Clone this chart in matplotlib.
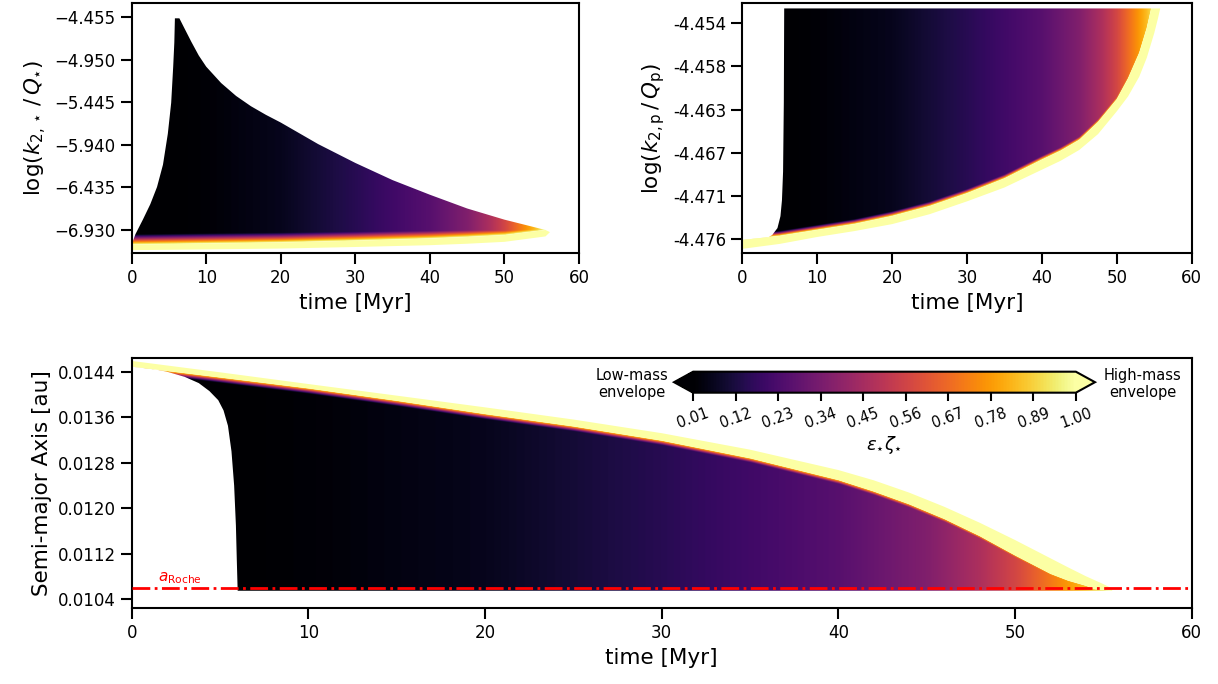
import numpy as np
import matplotlib.pyplot as plt
from matplotlib.patches import Polygon
from matplotlib.colors import Normalize
from matplotlib.cm import ScalarMappable

# --- values ---

# time at which a track reaches the Roche limit -> eps*zeta of that track (its colour)
END_TIME = [0.0, 6.0, 10.0, 20.0, 30.0, 40.0, 45.0, 48.0, 50.0, 52.0, 54.0, 55.5, 60.0]
END_EPS = [0.01, 0.01, 0.02, 0.06, 0.15, 0.26, 0.36, 0.47, 0.57, 0.71, 0.85, 1.00, 1.00]

# top left: log(k2*/Q*)
KS_LEFT_T = [0.0, 0.5, 1.5, 2.5, 3.4, 4.2, 4.85, 5.3, 5.57, 5.72, 5.8]
KS_LEFT_Y = [-7.100, -6.980, -6.810, -6.630, -6.430, -6.170, -5.810, -5.450, -5.030, -4.750, -4.467]
KS_TOP_T = [5.8, 6.4, 7.0, 8.0, 9.0, 10.0, 12.0, 14.0, 16.0, 18.0, 20.0, 25.0, 30.0,
            35.0, 40.0, 45.0, 50.0, 55.5]
KS_TOP_Y = [-4.467, -4.467, -4.570, -4.740, -4.900, -5.030, -5.220, -5.370, -5.490, -5.590,
            -5.680, -5.930, -6.150, -6.350, -6.520, -6.680, -6.810, -6.930]
KS_IN_T = [0.0, 10.0, 20.0, 30.0, 40.0, 45.0, 50.0, 55.5]
KS_IN_Y = [-7.100, -7.088, -7.076, -7.055, -7.030, -7.012, -6.990, -6.930]
KS_OUT_T = [0.0, 10.0, 20.0, 30.0, 40.0, 45.0, 50.0, 55.5, 56.1]
KS_OUT_Y = [-7.165, -7.156, -7.146, -7.128, -7.107, -7.090, -7.068, -7.005, -6.955]
KS_TICKS = [-4.455, -4.950, -5.445, -5.940, -6.435, -6.930]
KS_TICKLABELS = ['\u22124.455', '\u22124.950', '\u22125.445', '\u22125.940', '\u22126.435', '\u22126.930']

# top right: log(k2p/Qp)
KP_LEFT_T = [0.0, 2.0, 3.1, 4.0, 4.7, 5.1, 5.3, 5.45, 5.55, 5.6]
KP_LEFT_Y = [-4.4762, -4.4761, -4.4758, -4.4754, -4.4747, -4.4735, -4.4719, -4.4690, -4.4620, -4.4525]
KP_TOP_T = [5.6, 54.6]
KP_TOP_Y = [-4.4525, -4.4525]
KP_IN_T = [0.0, 5.0, 10.0, 15.0, 20.0, 25.0, 30.0, 35.0, 40.0, 42.5, 45.0, 47.5, 50.0,
           51.5, 53.0, 54.0, 54.6]
KP_IN_Y = [-4.4759, -4.4755, -4.4749, -4.4743, -4.4735, -4.4725, -4.4712, -4.4697, -4.4678,
           -4.4669, -4.4658, -4.4640, -4.4617, -4.4596, -4.4570, -4.4545, -4.4525]
KP_OUT_T = [0.0, 5.0, 10.0, 15.0, 20.0, 25.0, 30.0, 35.0, 40.0, 42.5, 45.0, 47.5, 50.0,
            51.5, 53.0, 54.0, 55.0, 55.5, 55.8]
KP_OUT_Y = [-4.4768, -4.4763, -4.4756, -4.4750, -4.4743, -4.4733, -4.4720, -4.4706, -4.4688,
            -4.4679, -4.4668, -4.4652, -4.4629, -4.4614, -4.4594, -4.4575, -4.4550, -4.4535, -4.4525]
KP_TICKS = np.linspace(-4.4758, -4.4540, 6)
KP_TICKLABELS = ['-4.476', '-4.471', '-4.467', '-4.463', '-4.458', '-4.454']

# bottom: semi-major axis
A_LEFT_T = [0.0, 1.0, 2.0, 3.0, 3.8, 4.4, 4.9, 5.2, 5.45, 5.65, 5.8, 5.9, 5.95, 6.0]
A_LEFT_Y = [0.01449, 0.01446, 0.01440, 0.01431, 0.01420, 0.01406, 0.01390, 0.01372,
            0.01345, 0.01300, 0.01240, 0.01170, 0.01110, 0.01055]
A_FLOOR = 0.01055
A_IN_T = [0.0, 5.0, 10.0, 15.0, 20.0, 25.0, 30.0, 35.0, 40.0, 42.0, 44.0, 46.0, 48.0,
          50.0, 52.0, 53.0, 54.0, 54.5, 55.5]
A_IN_Y = [0.01449, 0.01430, 0.014108, 0.01389, 0.013657, 0.01344, 0.01319, 0.01288,
          0.012497, 0.012297, 0.012073, 0.011813, 0.011513, 0.011173, 0.01085, 0.01073,
          0.01064, 0.01058, 0.01055]
A_OUT_T = [0.0, 5.0, 10.0, 15.0, 20.0, 25.0, 30.0, 35.0, 40.0, 42.0, 44.0, 46.0, 48.0,
           50.0, 52.0, 53.0, 54.0, 55.0, 55.5]
A_OUT_Y = [0.01459, 0.01439, 0.014184, 0.01398, 0.013774, 0.01356, 0.01332, 0.01303,
           0.012672, 0.012492, 0.012276, 0.012026, 0.011746, 0.011442, 0.011122, 0.010962,
           0.010807, 0.010667, 0.01059]
A_ROCHE = 0.01059
A_TICKS = [0.0104, 0.0112, 0.0120, 0.0128, 0.0136, 0.0144]
A_TICKLABELS = ['0.0104', '0.0112', '0.0120', '0.0128', '0.0136', '0.0144']

CB_TICKS = [0.01, 0.12, 0.23, 0.34, 0.45, 0.56, 0.67, 0.78, 0.89, 1.00]
CB_TICKLABELS = ['0.01', '0.12', '0.23', '0.34', '0.45', '0.56', '0.67', '0.78', '0.89', '1.00']

CMAP = plt.get_cmap('inferno')
NORM = Normalize(vmin=0.01, vmax=1.0)
TOP_COL = CMAP(1.0)


def style_axes(ax):
    for sp in ax.spines.values():
        sp.set_linewidth(1.5)
    ax.tick_params(width=1.5, length=8, labelsize=12)
    ax.set_xlim(0, 60)
    ax.set_xticks([0, 10, 20, 30, 40, 50, 60])
    ax.set_xlabel('time [Myr]', fontsize=15.5)


def track_field(ax, ylim, edge_t, edge_y, width, below):
    # colour of the tracks: set by when each one ends, brighter towards the high-mass edge
    tg = np.linspace(0, 60, 1500)
    yg = np.linspace(ylim[0], ylim[1], 900)
    T, Y = np.meshgrid(tg, yg)
    eps = np.interp(T, END_TIME, END_EPS)
    edge = np.interp(T, edge_t, edge_y)
    d = (Y - edge) if below else (edge - Y)
    eps = np.maximum(eps, 1.0 - d / width)
    return ax.imshow(eps, extent=[0, 60, ylim[0], ylim[1]], origin='lower', aspect='auto',
                     cmap=CMAP, norm=NORM, interpolation='bilinear', zorder=1)


def clip_to(ax, im, xs, ys):
    poly = Polygon(np.column_stack([xs, ys]), closed=True, transform=ax.transData)
    im.set_clip_path(poly)


fig = plt.figure(figsize=(12.18, 6.84), dpi=100)
ax1 = fig.add_axes([0.1081, 0.6301, 0.3673, 0.3651])
ax2 = fig.add_axes([0.6094, 0.6301, 0.3690, 0.3651])
ax3 = fig.add_axes([0.1081, 0.1107, 0.8703, 0.3663])

# ---- top left ----
ks_lim = (-7.198, -4.292)
im1 = track_field(ax1, ks_lim, KS_IN_T, KS_IN_Y, 0.12, below=True)
clip_to(ax1, im1,
        np.concatenate([KS_LEFT_T, KS_TOP_T, KS_IN_T[::-1]]),
        np.concatenate([KS_LEFT_Y, KS_TOP_Y, KS_IN_Y[::-1]]))
ax1.fill(np.concatenate([KS_IN_T, KS_OUT_T[::-1]]), np.concatenate([KS_IN_Y, KS_OUT_Y[::-1]]),
         color=TOP_COL, lw=0, zorder=2)
style_axes(ax1)
ax1.set_ylim(*ks_lim)
ax1.set_yticks(KS_TICKS)
ax1.set_yticklabels(KS_TICKLABELS)
ax1.set_ylabel(r'$\log(k_{2,\star}\,/\,Q_{\star})$', fontsize=15.5)

# ---- top right ----
kp_lim = (-4.47722, -4.45198)
im2 = track_field(ax2, kp_lim, KP_IN_T, KP_IN_Y, 5e-4, below=True)
clip_to(ax2, im2,
        np.concatenate([KP_LEFT_T, KP_TOP_T, KP_IN_T[::-1]]),
        np.concatenate([KP_LEFT_Y, KP_TOP_Y, KP_IN_Y[::-1]]))
ax2.fill(np.concatenate([KP_IN_T, KP_OUT_T[::-1]]), np.concatenate([KP_IN_Y, KP_OUT_Y[::-1]]),
         color=TOP_COL, lw=0, zorder=2)
style_axes(ax2)
ax2.set_ylim(*kp_lim)
ax2.set_yticks(KP_TICKS)
ax2.set_yticklabels(KP_TICKLABELS)
ax2.set_ylabel(r'$\log(k_{2,\mathrm{p}}\,/\,Q_{\mathrm{p}})$', fontsize=15.5)

# ---- bottom ----
a_lim = (0.010242, 0.014646)
im3 = track_field(ax3, a_lim, A_IN_T, A_IN_Y, 1.05e-4, below=False)
clip_to(ax3, im3,
        np.concatenate([A_LEFT_T, [A_IN_T[-1]], A_IN_T[::-1]]),
        np.concatenate([A_LEFT_Y, [A_FLOOR], A_IN_Y[::-1]]))
ax3.fill(np.concatenate([A_IN_T, A_OUT_T[::-1]]), np.concatenate([A_IN_Y, A_OUT_Y[::-1]]),
         color=TOP_COL, lw=0, zorder=2)
ax3.axhline(A_ROCHE, color='red', ls='-.', lw=2, zorder=3)
ax3.text(1.5, 0.01063, r'$a_{\mathrm{Roche}}$', color='red', fontsize=11, va='bottom')
style_axes(ax3)
ax3.set_ylim(*a_lim)
ax3.set_yticks(A_TICKS)
ax3.set_yticklabels(A_TICKLABELS)
ax3.set_ylabel('Semi-major Axis [au]', fontsize=15.5)

# ---- colour bar ----
cax = fig.add_axes([0.5534, 0.4259, 0.3456, 0.0307])
sm = ScalarMappable(norm=NORM, cmap=CMAP)
cb = fig.colorbar(sm, cax=cax, orientation='horizontal', extend='both', ticks=CB_TICKS)
cb.outline.set_linewidth(1.5)
cb.ax.tick_params(width=1.5, length=6)
cb.ax.set_xticklabels(CB_TICKLABELS, rotation=20, fontsize=10.5)
cb.set_label(r'$\varepsilon_{\star}\zeta_{\star}$', fontsize=13, labelpad=2)
fig.text(0.5189, 0.4386, 'Low-mass\nenvelope', ha='center', va='center', fontsize=10.5,
         linespacing=1.1)
fig.text(0.9384, 0.4386, 'High-mass\nenvelope', ha='center', va='center', fontsize=10.5,
         linespacing=1.1)

fig.savefig('out.png', dpi=100)
